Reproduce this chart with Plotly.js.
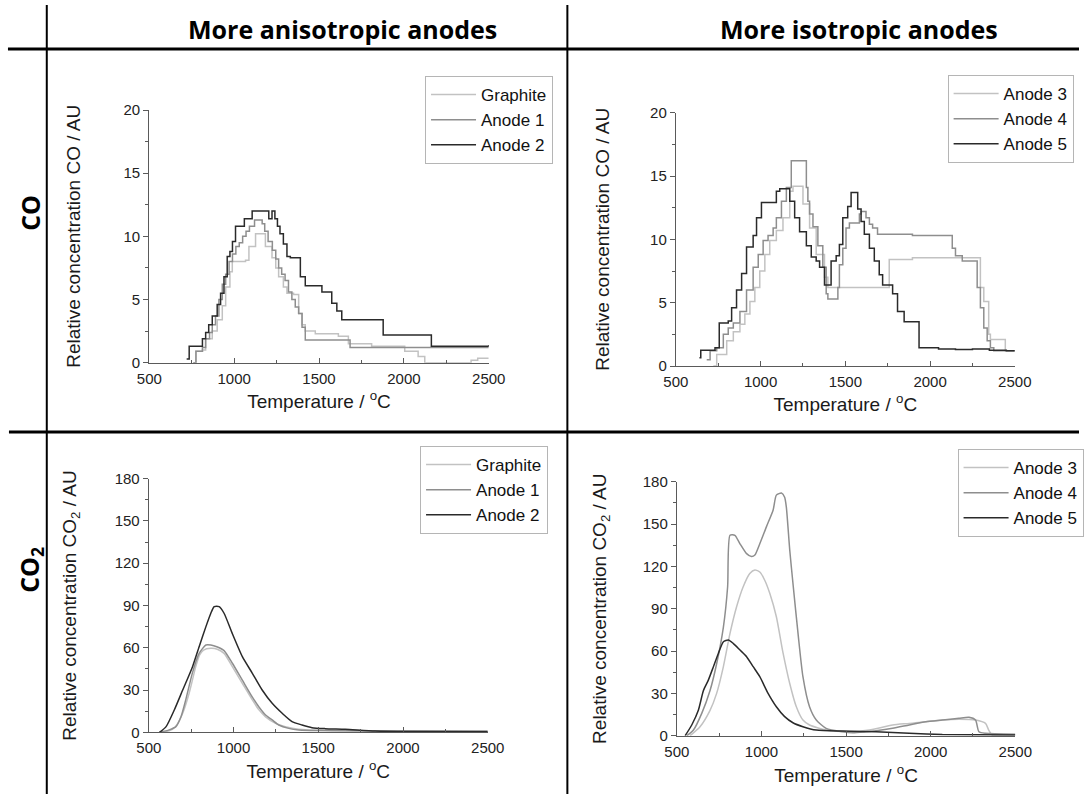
<!DOCTYPE html>
<html><head><meta charset="utf-8">
<script src="https://cdn.plot.ly/plotly-3.0.1.min.js"></script>
<style>body{margin:0;background:#fff}#chart{width:1084px;height:794px}</style>
</head><body><div id="chart"></div>
<script>
// ---------- DATA ----------
const namesAniso = ['Graphite', 'Anode 1', 'Anode 2'];
const namesIso = ['Anode 3', 'Anode 4', 'Anode 5'];
const colHeaders = ['More anisotropic anodes', 'More isotropic anodes'];
const rowHeaders = ['CO', 'CO<sub>2</sub>'];
const xTickVals = [500, 1000, 1500, 2000, 2500];
const yTitleCO = 'Relative concentration CO / AU';
const yTitleCO2 = 'Relative concentration CO<sub>2</sub> / AU';
const xTitle = 'Temperature / <sup>o</sup>C';

// CO, more anisotropic (step data: value holds until next temperature)
const coGraphiteT = [758, 774, 813, 832, 871, 900, 930, 950, 975, 989, 1067, 1087, 1126, 1165, 1184, 1223, 1245, 1262, 1290, 1311, 1350, 1380, 1400, 1419, 1478, 1614, 1673, 1810, 2005, 2084, 2123, 2396, 2435, 2500];
const coGraphiteY = [0.0, 0.9, 1.0, 1.9, 2.5, 3.4, 4.5, 6.0, 7.2, 8.0, 8.1, 9.2, 10.2, 10.2, 9.2, 8.3, 7.5, 6.8, 6.0, 5.5, 5.4, 3.9, 3.0, 2.5, 2.3, 2.1, 1.5, 1.3, 0.9, 0.5, 0.0, 0.2, 0.35, 0.35];
const coAnode1T = [760, 775, 813, 832, 855, 871, 890, 910, 930, 950, 970, 990, 1010, 1030, 1050, 1070, 1090, 1120, 1165, 1180, 1200, 1225, 1245, 1262, 1280, 1300, 1320, 1340, 1360, 1380, 1400, 1419, 1683, 2500];
const coAnode1Y = [0.0, 0.9, 1.2, 1.9, 2.4, 3.0, 3.7, 5.0, 6.2, 7.0, 8.0, 8.6, 9.2, 9.5, 10.0, 10.4, 10.8, 11.3, 11.0, 10.4, 9.6, 8.9, 8.2, 7.5, 7.0, 6.5, 5.6, 5.0, 4.4, 3.9, 2.8, 1.8, 1.2, 1.2];
const coAnode2T = [720, 735, 813, 832, 850, 871, 900, 920, 940, 959, 975, 990, 1008, 1060, 1106, 1204, 1223, 1240, 1255, 1270, 1290, 1311, 1331, 1390, 1419, 1517, 1575, 1605, 1634, 1878, 2162, 2500];
const coAnode2Y = [0.3, 1.3, 1.9, 2.4, 3.0, 3.7, 4.6, 5.5, 6.8, 8.4, 8.8, 9.6, 10.8, 11.4, 12.0, 11.4, 12.0, 11.4, 10.8, 10.2, 9.4, 8.4, 8.3, 6.8, 6.1, 5.6, 4.7, 4.1, 3.4, 2.2, 1.3, 1.4];

// CO, more isotropic
const coAnode3T = [721, 741, 800, 839, 878, 907, 937, 966, 995, 1025, 1054, 1093, 1132, 1172, 1191, 1250, 1289, 1328, 1377, 1397, 1759, 1896, 2297, 2317, 2346, 2356, 2444, 2464, 2500];
const coAnode3Y = [0.0, 0.9, 2.0, 2.7, 3.3, 4.1, 5.1, 6.2, 7.5, 8.8, 9.9, 10.7, 11.7, 13.8, 14.2, 12.8, 10.9, 8.8, 7.0, 6.2, 8.4, 8.55, 6.2, 5.1, 2.5, 2.1, 1.2, 1.2, 1.2];
const coAnode4T = [682, 702, 741, 780, 809, 839, 878, 917, 956, 986, 1015, 1044, 1074, 1093, 1123, 1152, 1181, 1270, 1279, 1289, 1309, 1338, 1367, 1387, 1397, 1456, 1465, 1485, 1504, 1524, 1583, 1593, 1622, 1642, 1661, 1690, 1720, 1896, 2131, 2150, 2190, 2278, 2297, 2317, 2337, 2356, 2376, 2500];
const coAnode4Y = [0.5, 1.2, 1.45, 2.5, 3.0, 3.4, 4.3, 6.0, 7.8, 8.8, 9.9, 10.3, 10.9, 11.7, 13.0, 14.1, 16.2, 14.1, 13.0, 12.0, 11.0, 9.5, 7.8, 5.7, 5.3, 6.2, 8.0, 9.3, 10.9, 11.3, 12.0, 12.2, 11.7, 11.2, 10.9, 10.4, 10.4, 10.3, 9.3, 8.7, 8.3, 6.2, 4.6, 3.0, 2.0, 1.45, 1.2, 1.2];
const coAnode5T = [639, 647, 731, 756, 809, 829, 858, 888, 917, 956, 976, 1005, 1093, 1113, 1172, 1201, 1230, 1270, 1299, 1328, 1348, 1377, 1416, 1446, 1465, 1485, 1514, 1534, 1573, 1593, 1612, 1642, 1671, 1700, 1720, 1779, 1808, 1847, 1935, 2050, 2150, 2250, 2350, 2450, 2500];
const coAnode5Y = [0.66, 1.24, 1.45, 3.4, 3.55, 4.6, 6.0, 7.3, 9.4, 10.3, 11.7, 12.9, 13.8, 14.0, 13.0, 11.7, 10.6, 9.5, 8.6, 8.3, 7.8, 6.4, 8.3, 8.7, 9.6, 11.7, 12.6, 13.7, 12.4, 11.4, 10.4, 9.3, 8.3, 7.2, 6.4, 5.7, 4.3, 3.5, 1.45, 1.35, 1.3, 1.35, 1.25, 1.2, 1.2];

// CO2, more anisotropic
const co2GraphiteT = [563, 620, 657, 700, 738, 777, 800, 823, 866, 904, 944, 993, 1052, 1111, 1150, 1189, 1248, 1306, 1385, 1541, 2500];
const co2GraphiteY = [0, 1.0, 4.0, 13.5, 27.7, 46.6, 55.0, 58.4, 59.6, 59.0, 56.0, 46.6, 34.8, 23.0, 15.9, 11.0, 6.4, 4.0, 2.1, 1.2, 0.5];
const co2Anode1T = [563, 620, 660, 690, 718, 757, 797, 837, 866, 905, 944, 993, 1052, 1111, 1150, 1189, 1228, 1267, 1326, 1385, 1541, 2500];
const co2Anode1Y = [0, 1.7, 4.0, 11.0, 23.0, 42.0, 56.0, 62.0, 62.0, 60.5, 58.0, 49.0, 37.0, 25.0, 18.0, 12.3, 8.8, 5.2, 2.8, 1.7, 1.2, 0.5];
const co2Anode2T = [563, 602, 651, 700, 758, 797, 837, 866, 886, 915, 944, 993, 1052, 1111, 1169, 1228, 1287, 1345, 1404, 1463, 1541, 1659, 1835, 2030, 2500];
const co2Anode2Y = [0, 4.0, 16.0, 30.0, 46.6, 60.8, 75.0, 84.5, 89.2, 89.2, 84.5, 70.0, 53.7, 41.9, 30.0, 20.6, 13.5, 7.6, 5.2, 3.3, 2.6, 2.1, 0.9, 0.5, 0.5];

// CO2, more isotropic
const co2Anode3T = [578, 637, 696, 735, 775, 814, 853, 892, 931, 961, 990, 1020, 1049, 1088, 1128, 1167, 1206, 1245, 1284, 1382, 1520, 1637, 1775, 1873, 2069, 2167, 2265, 2324, 2343, 2363, 2500];
const co2Anode3Y = [0, 6.4, 18.0, 30.0, 49.0, 72.5, 91.4, 105.6, 115.0, 117.4, 116.0, 110.0, 100.9, 84.3, 58.3, 37.0, 20.5, 11.1, 7.6, 4.0, 2.8, 4.0, 7.6, 8.7, 11.1, 11.6, 11.1, 8.7, 4.0, 0.5, 0.5];
const co2Anode4T = [559, 598, 647, 696, 735, 775, 800, 814, 843, 873, 912, 941, 961, 990, 1029, 1069, 1088, 1118, 1137, 1147, 1167, 1186, 1216, 1245, 1284, 1324, 1382, 1481, 1539, 1618, 1677, 1775, 1873, 1971, 2069, 2167, 2226, 2265, 2285, 2324, 2500];
const co2Anode4Y = [0, 4.0, 15.8, 32.0, 51.0, 77.0, 105.6, 142.0, 142.0, 136.0, 129.0, 127.0, 128.0, 136.0, 148.0, 160.0, 170.5, 172.0, 169.0, 162.0, 131.6, 108.0, 72.5, 41.8, 20.5, 11.1, 5.2, 2.8, 2.1, 2.8, 3.5, 5.2, 7.6, 9.9, 11.1, 12.3, 13.0, 11.1, 2.8, 1.7, 1.0];
const co2Anode5T = [549, 588, 627, 657, 686, 716, 745, 775, 804, 833, 873, 912, 951, 990, 1039, 1088, 1137, 1186, 1245, 1324, 1481, 1677, 1873, 2069, 2500];
const co2Anode5Y = [0, 7.6, 18.0, 32.0, 39.4, 48.9, 58.3, 66.6, 67.8, 65.4, 60.7, 56.0, 48.9, 41.8, 30.0, 20.5, 13.5, 9.2, 6.4, 4.0, 3.3, 2.8, 1.7, 0.9, 0.5];

// ---------- LAYOUT HELPERS ----------
const W = 1084, H = 794;
const px = v => v / W;
const py = v => 1 - v / H;
const LIGHT = '#c2c2c2', MED = '#8e8e8e', DARK = '#2a2a2a';

function tr(x, y, name, color, xa, ya, leg, shape) {
  return {x: x, y: y, name: name, type: 'scatter', mode: 'lines',
    line: {color: color, width: 1.5, shape: shape, smoothing: 0.6},
    xaxis: xa, yaxis: ya, legend: leg, hoverinfo: 'skip'};
}

const data = [
  tr(coGraphiteT, coGraphiteY, namesAniso[0], LIGHT, 'x', 'y', 'legend', 'hv'),
  tr(coAnode1T, coAnode1Y, namesAniso[1], MED, 'x', 'y', 'legend', 'hv'),
  tr(coAnode2T, coAnode2Y, namesAniso[2], DARK, 'x', 'y', 'legend', 'hv'),
  tr(coAnode3T, coAnode3Y, namesIso[0], LIGHT, 'x2', 'y2', 'legend2', 'hv'),
  tr(coAnode4T, coAnode4Y, namesIso[1], MED, 'x2', 'y2', 'legend2', 'hv'),
  tr(coAnode5T, coAnode5Y, namesIso[2], DARK, 'x2', 'y2', 'legend2', 'hv'),
  tr(co2GraphiteT, co2GraphiteY, namesAniso[0], LIGHT, 'x3', 'y3', 'legend3', 'spline'),
  tr(co2Anode1T, co2Anode1Y, namesAniso[1], MED, 'x3', 'y3', 'legend3', 'spline'),
  tr(co2Anode2T, co2Anode2Y, namesAniso[2], DARK, 'x3', 'y3', 'legend3', 'spline'),
  tr(co2Anode3T, co2Anode3Y, namesIso[0], LIGHT, 'x4', 'y4', 'legend4', 'spline'),
  tr(co2Anode4T, co2Anode4Y, namesIso[1], MED, 'x4', 'y4', 'legend4', 'spline'),
  tr(co2Anode5T, co2Anode5Y, namesIso[2], DARK, 'x4', 'y4', 'legend4', 'spline')
];

const AXC = '#5a5a5a';
const TITLEFONT = {size: 19, color: '#1a1a1a'};
function xAx(l, r, anchor, standoff) {
  return {domain: [px(l), px(r)], anchor: anchor, range: [500, 2500],
    title: {text: xTitle, font: TITLEFONT, standoff: standoff},
    tickvals: xTickVals, ticks: 'inside', ticklen: 5, tickcolor: AXC, tickwidth: 1,
    minor: {ticks: 'inside', ticklen: 3, dtick: 250, tick0: 500, tickcolor: AXC},
    showline: true, linecolor: AXC, linewidth: 1.2, showgrid: false, zeroline: false,
    tickfont: {size: 15, color: '#222'}, ticklabelstandoff: 2, fixedrange: true, automargin: false};
}
function yAx(t, b, max, dt, anchor, title, standoff) {
  return {domain: [py(b), py(t)], anchor: anchor, range: [0, max], dtick: dt, tick0: 0,
    title: {text: title, font: TITLEFONT, standoff: standoff},
    ticks: 'outside', ticklen: 5, tickcolor: AXC, tickwidth: 1,
    minor: {ticks: 'outside', ticklen: 3, dtick: dt / 2, tickcolor: AXC},
    showline: true, linecolor: AXC, linewidth: 1.2, showgrid: false, zeroline: false,
    tickfont: {size: 15, color: '#222'}, fixedrange: true, automargin: false};
}

const legBase = {bgcolor: '#fff', bordercolor: '#b5b5b5', borderwidth: 1,
  font: {size: 17, color: '#111'}, xanchor: 'left', yanchor: 'top',
  itemwidth: 45, tracegroupgap: 0, itemclick: false, itemdoubleclick: false};
function leg(l, t) { return Object.assign({}, legBase, {x: px(l), y: py(t)}); }

const HDR = {family: 'Open Sans, Noto Sans, sans-serif', size: 25, color: '#000'};
function hdr(text, x, y, angle) {
  return {text: '<b>' + text + '</b>', x: px(x), y: py(y), xref: 'paper', yref: 'paper',
    showarrow: false, xanchor: 'center', yanchor: 'middle', textangle: angle, font: HDR};
}
const annotations = [
  hdr(colHeaders[0], 344, 29, 0),
  hdr(colHeaders[1], 863, 29, 0),
  hdr(rowHeaders[0], 30, 213, -90),
  hdr(rowHeaders[1], 30, 570, -90)
];

function hline(y, x0, x1, w) {
  return {type: 'line', xref: 'paper', yref: 'paper', x0: px(x0), x1: px(x1), y0: py(y), y1: py(y), line: {color: '#000', width: w}};
}
function vline(x, y0, y1, w) {
  return {type: 'line', xref: 'paper', yref: 'paper', x0: px(x), x1: px(x), y0: py(y0), y1: py(y1), line: {color: '#000', width: w}};
}

const layout = {
  width: W, height: H, margin: {l: 0, r: 0, t: 0, b: 0},
  paper_bgcolor: '#fff', plot_bgcolor: 'rgba(0,0,0,0)',
  font: {family: 'Liberation Sans, Arial, sans-serif', color: '#222', size: 15},
  showlegend: true,
  xaxis: xAx(150, 491, 'y', 8),
  yaxis: yAx(110, 362.7, 20, 5, 'x', yTitleCO, 37),
  xaxis2: xAx(679, 1019.5, 'y2', 8),
  yaxis2: yAx(112.7, 366, 20, 5, 'x2', yTitleCO, 35),
  xaxis3: xAx(149.5, 490, 'y3', 9),
  yaxis3: yAx(478.7, 732.3, 180, 30, 'x3', yTitleCO2, 33),
  xaxis4: xAx(680, 1020, 'y4', 9),
  yaxis4: yAx(481.7, 735.7, 180, 30, 'x4', yTitleCO2, 31),
  legend: leg(427, 76),
  legend2: leg(952, 75),
  legend3: leg(422, 446),
  legend4: leg(962, 449),
  annotations: annotations,
  shapes: [
    hline(49, 8, 1084, 3),
    hline(432, 9, 1084, 3),
    vline(47, 5, 794, 2),
    vline(570, 5, 794, 2)
  ]
};

Plotly.newPlot('chart', data, layout, {displayModeBar: false});
</script></body></html>
